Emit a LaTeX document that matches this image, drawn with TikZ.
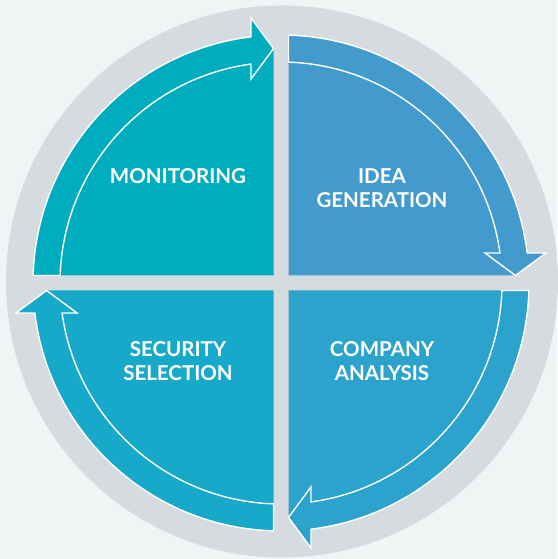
\documentclass[tikz,border=0pt]{standalone}
\usepackage{fontspec}
\setmainfont{Lato}
\definecolor{bgc}{HTML}{F1F4F5}
\definecolor{ringc}{HTML}{D6DBDF}
\definecolor{qtl}{HTML}{00ADBF}
\definecolor{qtr}{HTML}{429BCC}
\definecolor{qbl}{HTML}{17A9C9}
\definecolor{qbr}{HTML}{2BA3CC}
\tikzset{
  lbl/.style={text=white, font=\bfseries\fontsize{20.5}{24}\selectfont, align=center, inner sep=0pt},
  arrowband/.style={draw=white, line width=1.4pt, line join=miter, miter limit=10},
}
\newcommand{\quadpiece}[2]{%
  \begin{scope}[shift={(281,276)}, rotate=#1]
    \fill[#2] (7.5,7.5) -- (234.4,7.5) -- (204,30) -- (7.802:221)
      arc[start angle=7.802, end angle=88.055, radius=221] -- cycle;
    \filldraw[arrowband, fill=#2] (88.267:248)
      arc[start angle=88.267, end angle=6.948, radius=248]
      -- (265,30) -- (234.4,7.5) -- (204,30) -- (7.802:221)
      arc[start angle=7.802, end angle=88.055, radius=221] -- cycle;
  \end{scope}}
\begin{document}
\begin{tikzpicture}[x=1pt,y=1pt]
  \fill[bgc] (0,0) rectangle (557,559);
  \useasboundingbox (0,0) rectangle (557,559);
  \fill[ringc] (282,277.5) circle[radius=276];
  \quadpiece{0}{qtr}
  \quadpiece{90}{qtl}
  \quadpiece{180}{qbl}
  \quadpiece{270}{qbr}
  \node[lbl] (mon) at (178,383) {MONITORING};
  \node[lbl] (idea) at (382,371) {IDEA\\GENERATION};
  \node[lbl] (sec) at (178,198) {SECURITY\\SELECTION};
  \node[lbl] (comp) at (382,198) {COMPANY\\ANALYSIS};
\end{tikzpicture}
\end{document}
